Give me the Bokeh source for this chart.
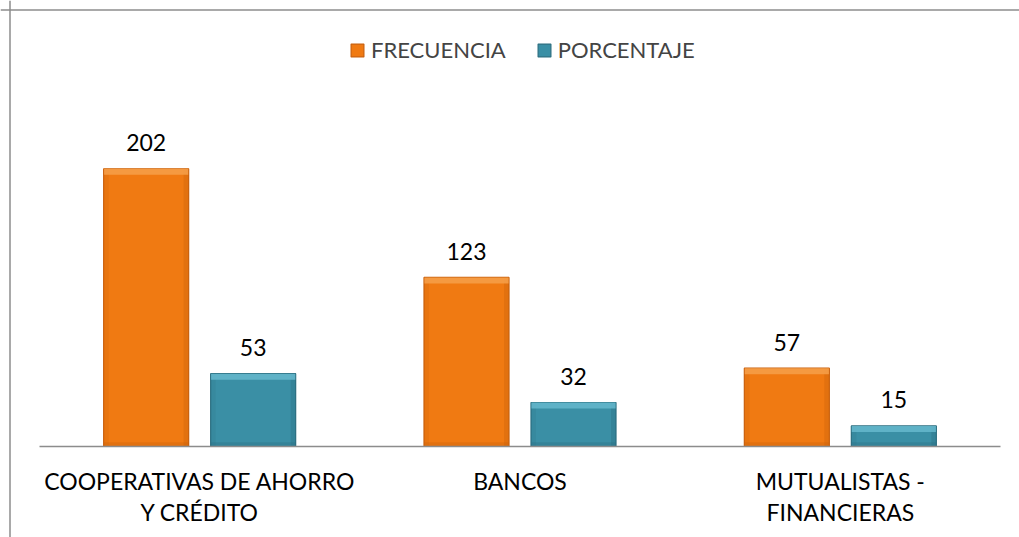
from bokeh.plotting import figure
from bokeh.models import ColumnDataSource, Range1d, Legend, LegendItem, Span
from bokeh.core.properties import value
from bokeh.embed import file_html
from bokeh.resources import INLINE

categories = ["COOPERATIVAS DE AHORRO\nY CRÉDITO", "BANCOS", "MUTUALISTAS -\nFINANCIERAS"]
frecuencia = [202, 123, 57]
porcentaje = [53, 32, 15]
series_names = ["FRECUENCIA", "PORCENTAJE"]

FONT = "Lato"
W, H = 1019, 537
# scales: x in category units, y in data units
SX = 961 / 3.0
SY = 1.375
XS = -39 / SX
XE = XS + W / SX
YE = 446 / SY
YS = YE - H / SY

p = figure(width=W, height=H, output_backend="svg", toolbar_location=None,
           x_range=Range1d(XS, XE), y_range=Range1d(YS, YE), min_border=0,
           outline_line_color=None, background_fill_color="white",
           border_fill_color="white")
p.xaxis.visible = False
p.yaxis.visible = False
p.xgrid.visible = False
p.ygrid.visible = False

n = len(categories)
centers = [i + 0.5 for i in range(n)]
bw = 85 / SX
off = 53.5 / SX
band = 6 / SY
edge = 5 / SX

colors = {
    "FRECUENCIA": ("#F07A12", "#F6A04A", "#C9600C"),
    "PORCENTAJE": ("#3A8FA5", "#66B8CD", "#2B6E80"),
}

items = []
for k, (name, vals) in enumerate(zip(series_names, [frecuencia, porcentaje])):
    main, light, dark = colors[name]
    xs = [c + (-off if k == 0 else off) for c in centers]
    src = ColumnDataSource(dict(x=xs, top=vals,
                                xl=[x - bw / 2 + edge / 2 for x in xs],
                                xr=[x + bw / 2 - edge / 2 for x in xs],
                                band_bottom=[v - band for v in vals],
                                low_top=[band * 0.7 for v in vals],
                                label=[str(v) for v in vals]))
    r = p.vbar(x="x", top="top", bottom=0, width=bw, source=src,
               fill_color=main, line_color=dark, line_width=1.2)
    p.vbar(x="xl", top="top", bottom=0, width=edge, source=src,
           fill_color=dark, line_color=None, fill_alpha=0.18)
    p.vbar(x="xr", top="top", bottom=0, width=edge, source=src,
           fill_color=dark, line_color=None, fill_alpha=0.35)
    p.vbar(x="x", top="top", bottom="band_bottom", width=bw * 0.99, source=src,
           fill_color=light, line_color=None, fill_alpha=0.85)
    p.vbar(x="x", top="low_top", bottom=0, width=bw * 0.99, source=src,
           fill_color=dark, line_color=None, fill_alpha=0.35)
    p.text(x="x", y="top", text="label", source=src, text_align="center",
           text_baseline="alphabetic", y_offset=-26,
           text_font=value(FONT), text_font_size="23px", text_color="#000000")
    items.append(LegendItem(label=name, renderers=[r]))

# baseline (category axis line)
p.segment(x0=[0], x1=[n], y0=[0], y1=[0], line_color="#8C8C8C", line_width=1.5)

# category labels, split into lines
line1 = [c.split("\n")[0] for c in categories]
line2 = [c.split("\n")[1] if "\n" in c else "" for c in categories]
lsrc = ColumnDataSource(dict(x=centers, y=[0] * n, l1=line1, l2=line2))
p.text(x="x", y="y", text="l1", source=lsrc, text_align="center",
       text_baseline="alphabetic", y_offset=34,
       text_font=value(FONT), text_font_size="23px", text_color="#000000")
p.text(x="x", y="y", text="l2", source=lsrc, text_align="center",
       text_baseline="alphabetic", y_offset=65,
       text_font=value(FONT), text_font_size="23px", text_color="#000000")

# chart border (left & top)
p.add_layout(Span(location=XS + 9.5 / SX, dimension="height",
                  line_color="#8C8C8C", line_width=1.5))
p.add_layout(Span(location=YE - 9.5 / SY, dimension="width",
                  line_color="#8C8C8C", line_width=1.5))

legend = Legend(items=items, orientation="horizontal", location=(349, 474),
                label_text_font=FONT, label_text_font_size="22px",
                glyph_width=16, glyph_height=16, label_standoff=6, spacing=30,
                padding=0, margin=0, border_line_color=None,
                background_fill_alpha=0)
p.add_layout(legend, "center")

open("out.html", "w").write(file_html(p, INLINE))
